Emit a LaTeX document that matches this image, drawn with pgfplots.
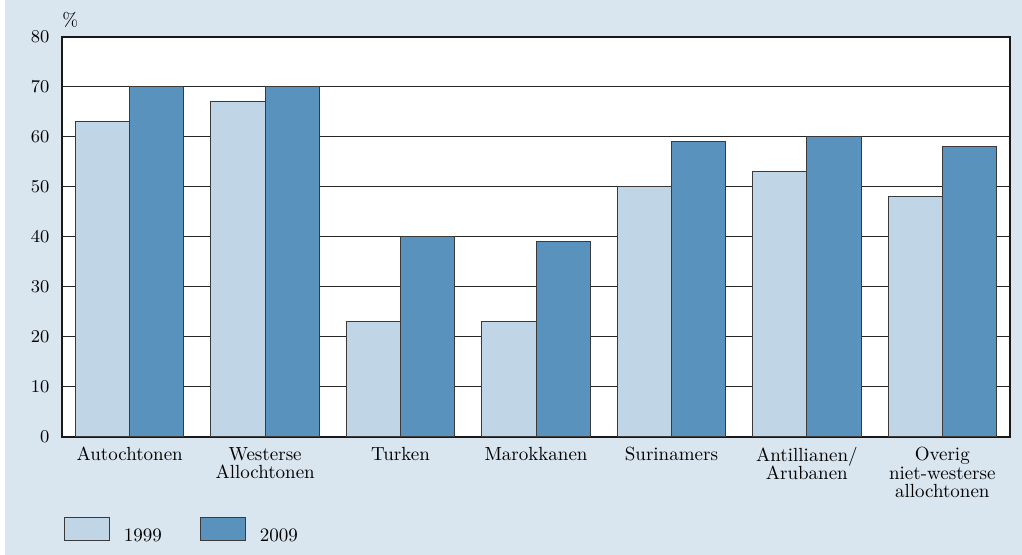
\documentclass[border=0pt]{standalone}
\usepackage{pgfplots}
\pgfplotsset{compat=1.18}
\definecolor{bg}{HTML}{D9E5EF}
\definecolor{lightbar}{HTML}{C0D5E6}
\definecolor{darkbar}{HTML}{5A92BE}
\definecolor{edge}{HTML}{3A3A3A}
\pgfplotsset{boxlegend/.style={legend image code/.code={\draw[##1] (0pt,-2pt) rectangle (22.5pt,9.5pt);}}}
\begin{document}
\fontsize{9.5}{9.5}\selectfont
\begin{tikzpicture}
\fill[white] (0pt,0pt) rectangle (511pt,277.5pt);
\fill[bg] (2.5pt,0pt) rectangle (511pt,277.5pt);
\begin{axis}[
  name=ax,
  at={(31pt,59pt)}, anchor=south west,
  scale only axis, width=474pt, height=200pt,
  ybar=0pt, bar width=27.09pt,
  xmin=-0.5, xmax=6.5, ymin=0, ymax=80,
  ytick={0,10,...,80},
  xtick={0,1,2,3,4,5,6},
  xticklabels={Autochtonen, Westerse\\Allochtonen, Turken, Marokkanen, Surinamers, Antillianen/\\Arubanen, Overig\\niet-westerse\\allochtonen},
  x tick label style={align=center, font=\fontsize{9.5}{9.2}\selectfont, yshift=2.5pt},
  y tick label style={font=\fontsize{9.5}{9.5}\selectfont, xshift=-3pt},
  ymajorgrids,
  major grid style={draw=black!85, line width=0.5pt},
  tick style={draw=none},
  axis line style={draw=black!90, line width=0.6pt},
  axis background/.style={fill=white},
  legend style={at={(0.0021,-0.2775)}, anchor=south west, draw=none, fill=none,
    inner sep=0pt, outer sep=0pt, font=\fontsize{9.5}{9.5}\selectfont,
    /tikz/every odd column/.append style={column sep=5pt},
    /tikz/every even column/.append style={column sep=17pt}},
  legend columns=2,
]
\addplot[fill=lightbar, draw=edge, line width=0.5pt, boxlegend]
  coordinates {(0,63) (1,67) (2,23) (3,23) (4,50) (5,53) (6,48)};
\addplot[fill=darkbar, draw=edge, line width=0.5pt, boxlegend]
  coordinates {(0,70) (1,70) (2,40) (3,39) (4,59) (5,60) (6,58)};
\legend{1999, 2009}
\end{axis}
\node[anchor=south west, inner sep=0pt] at ([yshift=4.5pt]ax.north west) {\%};
\end{tikzpicture}
\end{document}
